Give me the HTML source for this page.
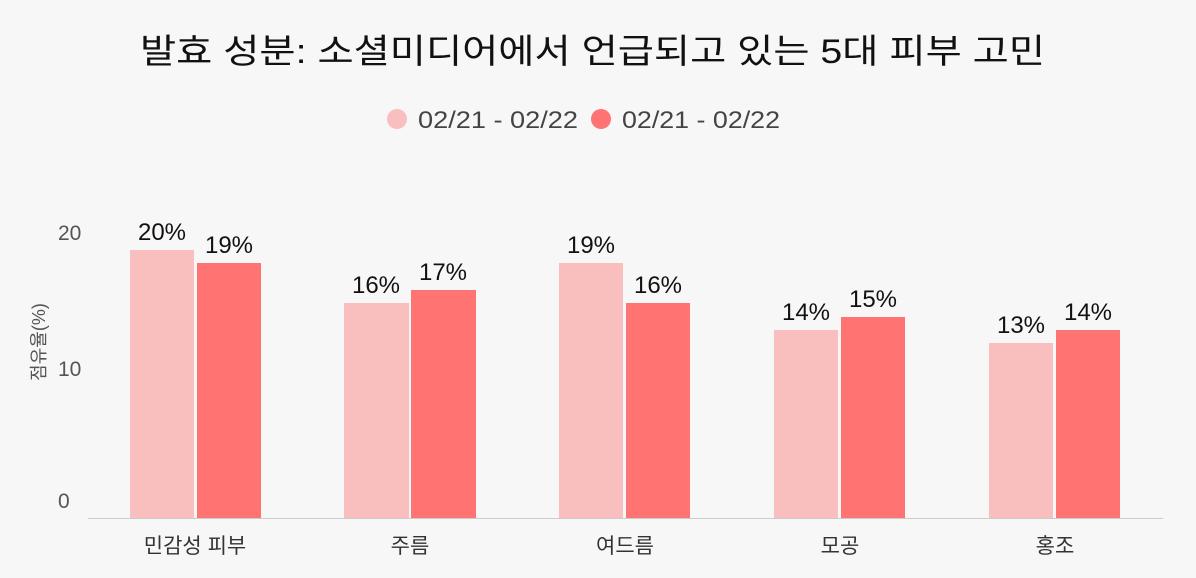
<!DOCTYPE html>
<html><head><meta charset="utf-8"><style>
body{margin:0;background:#f7f7f7;}
svg{display:block;font-family:"Liberation Sans","Noto Sans CJK KR",sans-serif;}
</style></head><body>
<svg width="1196" height="578" viewBox="0 0 1196 578">
<rect width="1196" height="578" fill="#f7f7f7"/>
<text x="140" y="63" font-size="34" fill="#111" textLength="905" lengthAdjust="spacingAndGlyphs">발효 성분: 소셜미디어에서 언급되고 있는 5대 피부 고민</text>
<circle cx="397" cy="119" r="10" fill="#f9bfbf"/>
<text x="418" y="128" font-size="24" fill="#444" textLength="160" lengthAdjust="spacingAndGlyphs">02/21 - 02/22</text>
<circle cx="601" cy="119" r="10" fill="#ff7373"/>
<text x="622" y="128" font-size="24" fill="#444" textLength="158" lengthAdjust="spacingAndGlyphs">02/21 - 02/22</text>
<g font-size="21" fill="#555">
<text x="58" y="240">20</text>
<text x="58" y="376">10</text>
<text x="58" y="508">0</text>
</g>
<text transform="translate(45,342) rotate(-90)" text-anchor="middle" font-size="18" fill="#555">점유율(%)</text>
<g fill="#f9bfbf">
<rect x="130" y="250" width="64" height="268"/>
<rect x="344" y="303" width="65" height="215"/>
<rect x="559" y="263" width="64" height="255"/>
<rect x="774" y="330" width="64" height="188"/>
<rect x="989" y="343" width="64" height="175"/>
</g>
<g fill="#ff7373">
<rect x="197" y="263" width="64" height="255"/>
<rect x="411" y="290" width="65" height="228"/>
<rect x="626" y="303" width="64" height="215"/>
<rect x="841" y="317" width="64" height="201"/>
<rect x="1056" y="330" width="64" height="188"/>
</g>
<line x1="88" y1="518.5" x2="1163" y2="518.5" stroke="#ccc" stroke-width="1"/>
<g font-size="24" fill="#111" text-anchor="middle">
<text x="162" y="240">20%</text><text x="229" y="253">19%</text>
<text x="376" y="293">16%</text><text x="443" y="280">17%</text>
<text x="591" y="253">19%</text><text x="658" y="293">16%</text>
<text x="806" y="320">14%</text><text x="873" y="307">15%</text>
<text x="1021" y="333">13%</text><text x="1088" y="320">14%</text>
</g>
<g font-size="21" fill="#333" text-anchor="middle">
<text x="195" y="553">민감성 피부</text>
<text x="410" y="553">주름</text>
<text x="625" y="553">여드름</text>
<text x="840" y="553">모공</text>
<text x="1055" y="553">홍조</text>
</g>
</svg>
</body></html>
